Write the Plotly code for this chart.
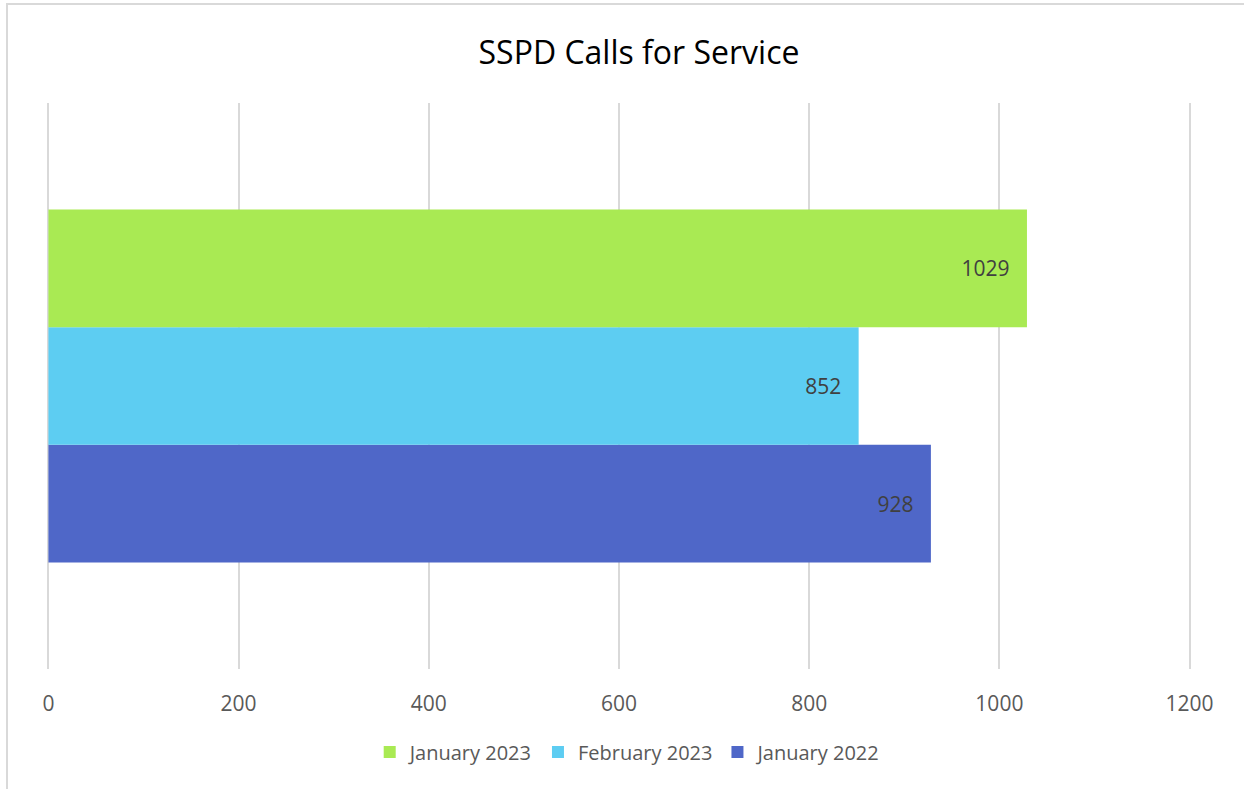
import plotly.graph_objects as go

series_names = ["January 2022", "February 2023", "January 2023"]
series_values = [928, 852, 1029]
series_colors = ["#4F67C8", "#5DCDF2", "#A9EA53"]
category = [""]
tick_values = [0, 200, 400, 600, 800, 1000, 1200]
tick_labels = ["0", "200", "400", "600", "800", "1000", "1200"]

FONT = "Open Sans"
W, H = 1244, 789
L, R, T, B = 47, 1190.6, 103, 669

fig = go.Figure()
for name, val, col in zip(series_names, series_values, series_colors):
    fig.add_trace(go.Bar(
        name=name, x=[val], y=category, orientation="h",
        marker=dict(color=col, line=dict(width=0)),
        text=[str(val)], texttemplate="%{text}\u00a0\u00a0\u2009",
        textposition="inside", insidetextanchor="end",
        insidetextfont=dict(family=FONT, size=21, color="#404040"),
    ))

pw, ph = R - L, B - T
def px(x):
    return (x - L) / pw
def py(y):
    return (B - y) / ph

fig.update_layout(
    width=W, height=H,
    margin=dict(l=L, r=W - R, t=T, b=H - B, pad=0),
    paper_bgcolor="white", plot_bgcolor="white",
    barmode="group", bargap=0.376, bargroupgap=0,
    title=dict(text="SSPD Calls for Service", x=639 / W, xanchor="center",
               y=1 - 53 / H, yanchor="middle",
               font=dict(family=FONT, size=32, color="#000000")),
    legend=dict(orientation="h", traceorder="reversed",
                x=px(628), xanchor="center", y=py(752), yanchor="middle",
                font=dict(family=FONT, size=20, color="#595959"),
                itemclick=False, itemdoubleclick=False),
    xaxis=dict(range=[-1.5, 1201.5], tickvals=tick_values, ticktext=tick_labels,
               showgrid=True, gridcolor="#D9D9D9", gridwidth=1.5,
               zeroline=True, zerolinecolor="#D9D9D9", zerolinewidth=1.5,
               showline=False, ticks="",
               ticklabelstandoff=20,
               tickfont=dict(family=FONT, size=21, color="#595959")),
    yaxis=dict(showticklabels=False, showgrid=False, zeroline=False,
               showline=False, ticks=""),
    shapes=[dict(type="rect", xref="paper", yref="paper",
                 x0=px(7), y0=py(800), x1=px(1260), y1=py(4),
                 line=dict(color="#D9D9D9", width=2), fillcolor="rgba(0,0,0,0)",
                 layer="below")],
    showlegend=True,
)

fig.write_html("out.html", config={"displayModeBar": False},
               post_script="document.body.style.margin='0';")
